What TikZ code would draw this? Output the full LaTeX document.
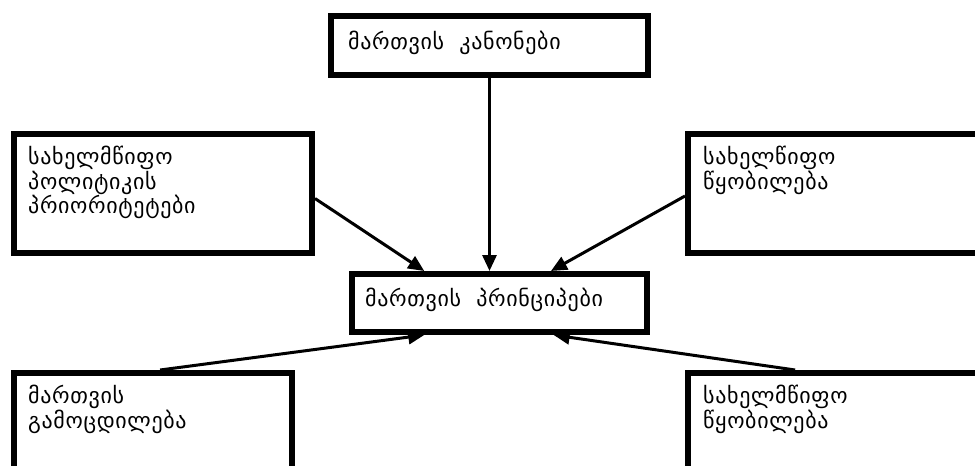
\documentclass[tikz,border=0pt]{standalone}
\usepackage{fontspec}
\newfontfamily\geofont[LetterSpace=3]{DejaVu Sans}
\usetikzlibrary{arrows.meta,calc}
\begin{document}
\begin{tikzpicture}[x=1pt,y=-1pt,
  box/.style={draw,line width=6pt,rectangle,inner sep=0pt,anchor=north west},
  lbl/.style={anchor=north west,inner sep=0pt,align=left,font=\geofont\fontsize{22}{22.5}\selectfont},
  arr/.style={line width=3pt,-{Triangle[length=16pt,width=14pt]}}]
\useasboundingbox (0,0) rectangle (975,466);
\clip (0,0) rectangle (975,466);
\fill[white] (0,0) rectangle (975,466);
% boxes
\node[box,minimum width=317pt,minimum height=59pt] (t) at (328,13) {};
\node[box,minimum width=295pt,minimum height=58pt] (c) at (349,271) {};
\node[box,minimum width=298pt,minimum height=119pt] (lt) at (11,131) {};
\node[box,minimum width=315pt,minimum height=119pt] (rt) at (685,131) {};
\node[box,minimum width=278pt,minimum height=120pt] (bl) at (11,370) {};
\node[box,minimum width=315pt,minimum height=120pt] (br) at (685,370) {};
% texts
\node[lbl] (tt) at (348,31) {მართვის \ კანონები};
\node[lbl] (ct) at (365,288) {მართვის \ პრინციპები};
\node[lbl] (ltt) at (28,146) {სახელმწიფო\\პოლიტიკის\\პრიორიტეტები};
\node[lbl] (rtt) at (703,146) {სახელწიფო\\წყობილება};
\node[lbl] (blt) at (28,385) {მართვის\\გამოცდილება};
\node[lbl] (brt) at (703,385) {სახელმწიფო\\წყობილება};
% arrows
\draw[arr] (t.south) -- (t.south |- c.north);
\draw[arr] ($(lt.north east)!0.54!(lt.south east)$) -- ($(c.north west)!0.25!(c.north east)$);
\draw[arr] ($(rt.north west)!0.52!(rt.south west)$) -- ($(c.north west)!0.671!(c.north east)$);
\draw[arr] ($(bl.north west)!0.525!(bl.north east)$) -- ($(c.south west)!0.25!(c.south east)$);
\draw[arr] ($(br.north west)!0.343!(br.north east)$) -- ($(c.south west)!0.68!(c.south east)$);
\end{tikzpicture}
\end{document}
